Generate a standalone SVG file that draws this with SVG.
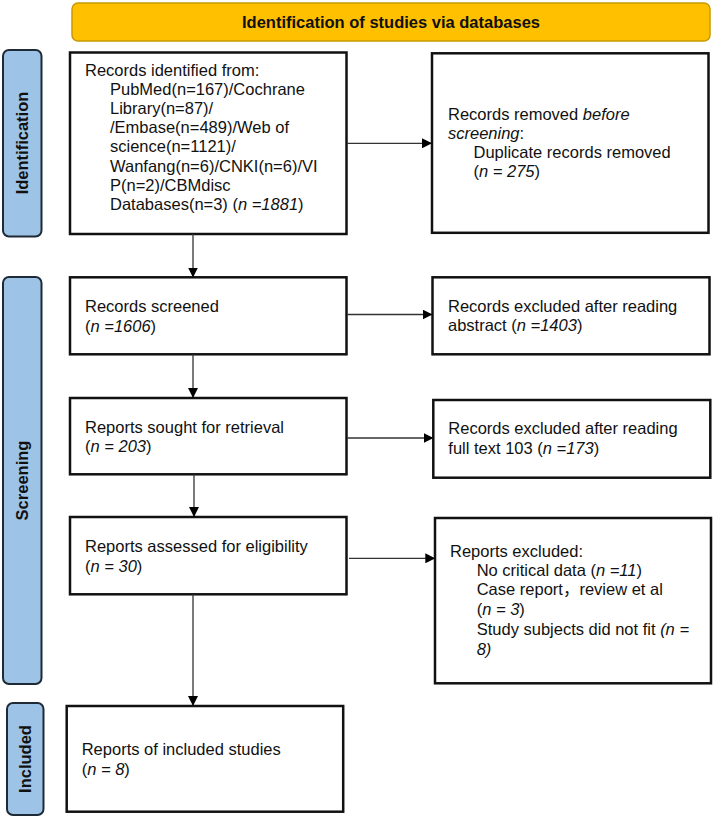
<svg xmlns="http://www.w3.org/2000/svg" width="714" height="818" viewBox="0 0 714 818">
  <style>
    .box { fill: #ffffff; stroke: #111111; stroke-width: 2.5; }
    .phase { fill: #9dc3e6; stroke: #1e2a36; stroke-width: 2; }
    .head { fill: #ffc000; stroke: #c89a00; stroke-width: 1.5; }
    .t { font-family: "Liberation Sans", Arial, "Noto Sans CJK SC", sans-serif; font-size: 16.5px; fill: #111111; }
    .b { font-weight: bold; }
    .link { stroke: #333333; stroke-width: 1.3; fill: none; marker-end: url(#arrow); }
  </style>
  <defs>
    <marker id="arrow" markerWidth="10" markerHeight="10" refX="9" refY="5" orient="auto" markerUnits="userSpaceOnUse">
      <path d="M0,0 L10,5 L0,10 z" fill="#000000"/>
    </marker>
  </defs>

  <!-- Header banner -->
  <g id="header">
    <rect class="head" x="72" y="3" width="638" height="38" rx="6"/>
    <text class="t b" x="391" y="28" text-anchor="middle">Identification of studies via databases</text>
  </g>

  <!-- Phase labels -->
  <g id="phase-identification">
    <rect class="phase" x="3" y="50" width="38.5" height="186.5" rx="6"/>
    <text class="t b" transform="translate(28,143) rotate(-90)" text-anchor="middle">Identification</text>
  </g>
  <g id="phase-screening">
    <rect class="phase" x="3" y="277" width="38.5" height="407" rx="6"/>
    <text class="t b" transform="translate(28,480.5) rotate(-90)" text-anchor="middle">Screening</text>
  </g>
  <g id="phase-included">
    <rect class="phase" x="7" y="703" width="36.5" height="112" rx="6"/>
    <text class="t b" transform="translate(31,759) rotate(-90)" text-anchor="middle">Included</text>
  </g>

  <!-- Flow boxes -->
  <g id="identified">
    <rect class="box" x="70" y="52.5" width="276.5" height="181.5"/>
    <text class="t" x="85" y="76">Records identified from:</text>
    <text class="t" x="110" y="95">PubMed(n=167)/Cochrane</text>
    <text class="t" x="110" y="114">Library(n=87)/</text>
    <text class="t" x="110" y="133.3">/Embase(n=489)/Web of</text>
    <text class="t" x="110" y="152.3">science(n=1121)/</text>
    <text class="t" x="110" y="171.5">Wanfang(n=6)/CNKI(n=6)/VI</text>
    <text class="t" x="110" y="190.7">P(n=2)/CBMdisc</text>
    <text class="t" x="110" y="210">Databases(n=3) (<tspan font-style="italic">n =1881</tspan>)</text>
  </g>
  <g id="removed">
    <rect class="box" x="432" y="53.3" width="276.5" height="179.5"/>
    <text class="t" x="448" y="120">Records removed <tspan font-style="italic">before</tspan></text>
    <text class="t" x="448" y="139"><tspan font-style="italic">screening</tspan>:</text>
    <text class="t" x="473.5" y="158.3">Duplicate records removed</text>
    <text class="t" x="473.5" y="177.3">(<tspan font-style="italic">n = 275</tspan>)</text>
  </g>
  <g id="screened">
    <rect class="box" x="70" y="277.3" width="276.5" height="77"/>
    <text class="t" x="85" y="311.7">Records screened</text>
    <text class="t" x="85" y="331.5">(<tspan font-style="italic">n =1606</tspan>)</text>
  </g>
  <g id="excluded-abstract">
    <rect class="box" x="432.5" y="277.3" width="277" height="77"/>
    <text class="t" x="448" y="311.5">Records excluded after reading</text>
    <text class="t" x="448" y="331">abstract (<tspan font-style="italic">n =1403</tspan>)</text>
  </g>
  <g id="sought">
    <rect class="box" x="70" y="398" width="276.5" height="76.3"/>
    <text class="t" x="85" y="432.7">Reports sought for retrieval</text>
    <text class="t" x="85" y="451.7">(<tspan font-style="italic">n = 203</tspan>)</text>
  </g>
  <g id="excluded-fulltext">
    <rect class="box" x="433.3" y="400" width="277" height="77.7"/>
    <text class="t" x="448.3" y="434.3">Records excluded after reading</text>
    <text class="t" x="448.3" y="454.3">full text 103 (<tspan font-style="italic">n =173</tspan>)</text>
  </g>
  <g id="eligibility">
    <rect class="box" x="70" y="517" width="276.5" height="77.3"/>
    <text class="t" x="85" y="551.7">Reports assessed for eligibility</text>
    <text class="t" x="85" y="571.7">(<tspan font-style="italic">n = 30</tspan>)</text>
  </g>
  <g id="excluded-reports">
    <rect class="box" x="435" y="518" width="276" height="165.3"/>
    <text class="t" x="450" y="556.7">Reports excluded:</text>
    <text class="t" x="476.7" y="575.5">No critical data (<tspan font-style="italic">n =11</tspan>)</text>
    <text class="t" x="476.7" y="595">Case report，review et al</text>
    <text class="t" x="476.7" y="615">(<tspan font-style="italic">n = 3</tspan>)</text>
    <text class="t" x="476.7" y="635">Study subjects did not fit <tspan font-style="italic">(n =</tspan></text>
    <text class="t" x="476.7" y="655"><tspan font-style="italic">8)</tspan></text>
  </g>
  <g id="included">
    <rect class="box" x="66.7" y="706" width="276.5" height="105.7"/>
    <text class="t" x="81.7" y="755">Reports of included studies</text>
    <text class="t" x="81.7" y="775">(<tspan font-style="italic">n = 8</tspan>)</text>
  </g>

  <!-- Connectors -->
  <g id="connectors">
    <line class="link" x1="347" y1="143.3" x2="431" y2="143.3"/>
    <line class="link" x1="193" y1="234" x2="193" y2="276.5"/>
    <line class="link" x1="347" y1="314.5" x2="431.5" y2="314.5"/>
    <line class="link" x1="193" y1="354.3" x2="193" y2="397"/>
    <line class="link" x1="347" y1="438" x2="432.5" y2="438"/>
    <line class="link" x1="194" y1="474.3" x2="194" y2="516"/>
    <line class="link" x1="349" y1="558.3" x2="434.3" y2="558.3"/>
    <line class="link" x1="193" y1="594.3" x2="193" y2="705"/>
  </g>
</svg>
